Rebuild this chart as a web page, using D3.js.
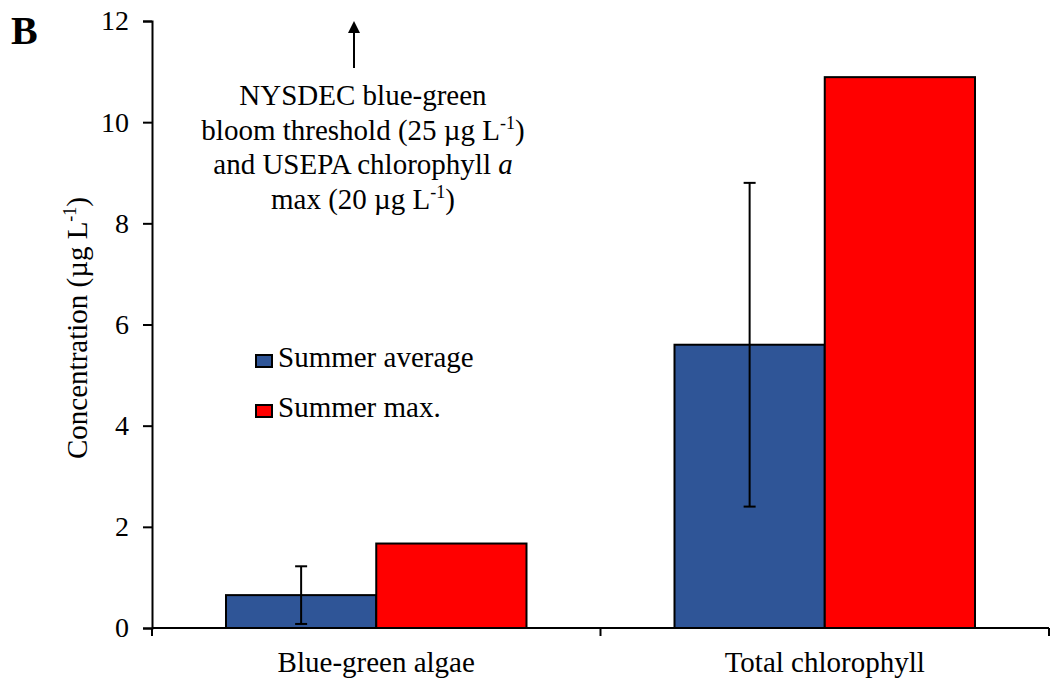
<!DOCTYPE html>
<html>
<head>
<meta charset="utf-8">
<script src="https://cdn.jsdelivr.net/npm/d3@7"></script>
<style>
  html, body { margin: 0; padding: 0; background: #fff; }
  svg { display: block; font-family: "Liberation Serif", "Times New Roman", serif; }
</style>
</head>
<body>
<svg id="chart" width="1052" height="679"></svg>
<script>
// Categories, series and values
const categories = ["Blue-green algae", "Total chlorophyll"];
const seriesNames = ["Summer average", "Summer max."];
const seriesColors = ["#2F5597", "#FF0000"];
const summerAverage = [0.65, 5.6];
const summerAverageErr = [0.57, 3.2];
const summerMax = [1.67, 10.89];
const yTicks = [0, 2, 4, 6, 8, 10, 12];

const svg = d3.select("#chart");
const plotLeft = 152, plotRight = 1049, plotTop = 21, plotBottom = 628;
const fs = 29;

const x = d3.scaleBand().domain(categories).range([plotLeft, plotRight]).padding(0);
const bw = x.bandwidth();
const groupW = bw * 0.67;
const xs = d3.scaleBand().domain(seriesNames)
  .range([(bw - groupW) / 2, (bw + groupW) / 2]).padding(0);
const y = d3.scaleLinear().domain([0, 12]).range([plotBottom, plotTop]);

const values = [summerAverage, summerMax];

// Bars
seriesNames.forEach((s, si) => {
  svg.append("g").selectAll("rect")
    .data(categories.map((c, ci) => ({ c, v: values[si][ci] })))
    .join("rect")
    .attr("x", d => x(d.c) + xs(s))
    .attr("y", d => y(d.v))
    .attr("width", xs.bandwidth())
    .attr("height", d => y(0) - y(d.v))
    .attr("fill", seriesColors[si])
    .attr("stroke", "#000")
    .attr("stroke-width", 2);
});

// Error bars on the summer average
const eb = svg.append("g").attr("stroke", "#000").attr("stroke-width", 2);
categories.forEach((c, ci) => {
  const cx = x(c) + xs(seriesNames[0]) + xs.bandwidth() / 2;
  const lo = y(summerAverage[ci] - summerAverageErr[ci]);
  const hi = y(summerAverage[ci] + summerAverageErr[ci]);
  eb.append("line").attr("x1", cx).attr("x2", cx).attr("y1", lo).attr("y2", hi);
  eb.append("line").attr("x1", cx - 6).attr("x2", cx + 6).attr("y1", lo).attr("y2", lo);
  eb.append("line").attr("x1", cx - 6).attr("x2", cx + 6).attr("y1", hi).attr("y2", hi);
});

// Y axis
const yAxis = svg.append("g")
  .attr("transform", `translate(${plotLeft},0)`)
  .call(d3.axisLeft(y).tickValues(yTicks).tickSize(9).tickPadding(14).tickFormat(d3.format("d")));
yAxis.select(".domain").attr("stroke-width", 2);
yAxis.selectAll(".tick line").attr("stroke-width", 2);
yAxis.selectAll("text").attr("font-size", 28).attr("font-family", "Liberation Serif").attr("fill", "#000");

// X axis with ticks at category boundaries
const xAxis = svg.append("g").attr("transform", `translate(0,${plotBottom})`);
xAxis.append("line").attr("x1", plotLeft).attr("x2", plotRight).attr("stroke", "#000").attr("stroke-width", 2);
const bounds = [plotLeft].concat(categories.map(c => x(c) + bw));
xAxis.selectAll(".bt").data(bounds).join("line")
  .attr("x1", d => d).attr("x2", d => d).attr("y1", 0).attr("y2", 8)
  .attr("stroke", "#000").attr("stroke-width", 2);
xAxis.selectAll("text").data(categories).join("text")
  .attr("x", d => x(d) + bw / 2).attr("y", 44)
  .attr("text-anchor", "middle").attr("font-size", fs).attr("fill", "#000")
  .text(d => d);

// Y axis title
const yt = svg.append("text")
  .attr("transform", "translate(87,328) rotate(-90)")
  .attr("text-anchor", "middle").attr("font-size", fs).attr("fill", "#000");
yt.append("tspan").text("Concentration (µg L");
yt.append("tspan").attr("font-size", 18).attr("dy", -11).text("-1");
yt.append("tspan").attr("dy", 11).text(")");

// Panel letter
svg.append("text").attr("x", 11).attr("y", 44)
  .attr("font-size", 40).attr("font-weight", "bold").attr("fill", "#000").text("B");

// Legend
const lg = svg.append("g").attr("transform", "translate(256,350)");
seriesNames.forEach((s, i) => {
  const g = lg.append("g").attr("transform", `translate(0,${i * 50})`);
  g.append("rect").attr("x", 0).attr("y", 5).attr("width", 16).attr("height", 12)
    .attr("fill", seriesColors[i]).attr("stroke", "#000").attr("stroke-width", 2);
  g.append("text").attr("x", 22).attr("y", 17).attr("font-size", fs).attr("fill", "#000").text(s);
});

// Off-scale annotation with arrow
const ax = 354;
svg.append("line").attr("x1", ax).attr("x2", ax).attr("y1", 68).attr("y2", 30)
  .attr("stroke", "#000").attr("stroke-width", 2);
svg.append("path").attr("d", `M${ax - 6},${33} L${ax},${21} L${ax + 6},${33} Z`).attr("fill", "#000");

const ann = svg.append("text").attr("text-anchor", "middle").attr("font-size", fs).attr("fill", "#000");
const acx = 363;
ann.append("tspan").attr("x", acx).attr("y", 105).text("NYSDEC blue-green");
const l2 = ann.append("tspan").attr("x", acx).attr("y", 140);
l2.append("tspan").text("bloom threshold (25 µg L");
l2.append("tspan").attr("font-size", 18).attr("dy", -11).text("-1");
l2.append("tspan").attr("dy", 11).text(")");
const l3 = ann.append("tspan").attr("x", acx).attr("y", 174);
l3.append("tspan").text("and USEPA chlorophyll ");
l3.append("tspan").attr("font-style", "italic").text("a");
const l4 = ann.append("tspan").attr("x", acx).attr("y", 209);
l4.append("tspan").text("max (20 µg L");
l4.append("tspan").attr("font-size", 18).attr("dy", -11).text("-1");
l4.append("tspan").attr("dy", 11).text(")");
</script>
</body>
</html>
